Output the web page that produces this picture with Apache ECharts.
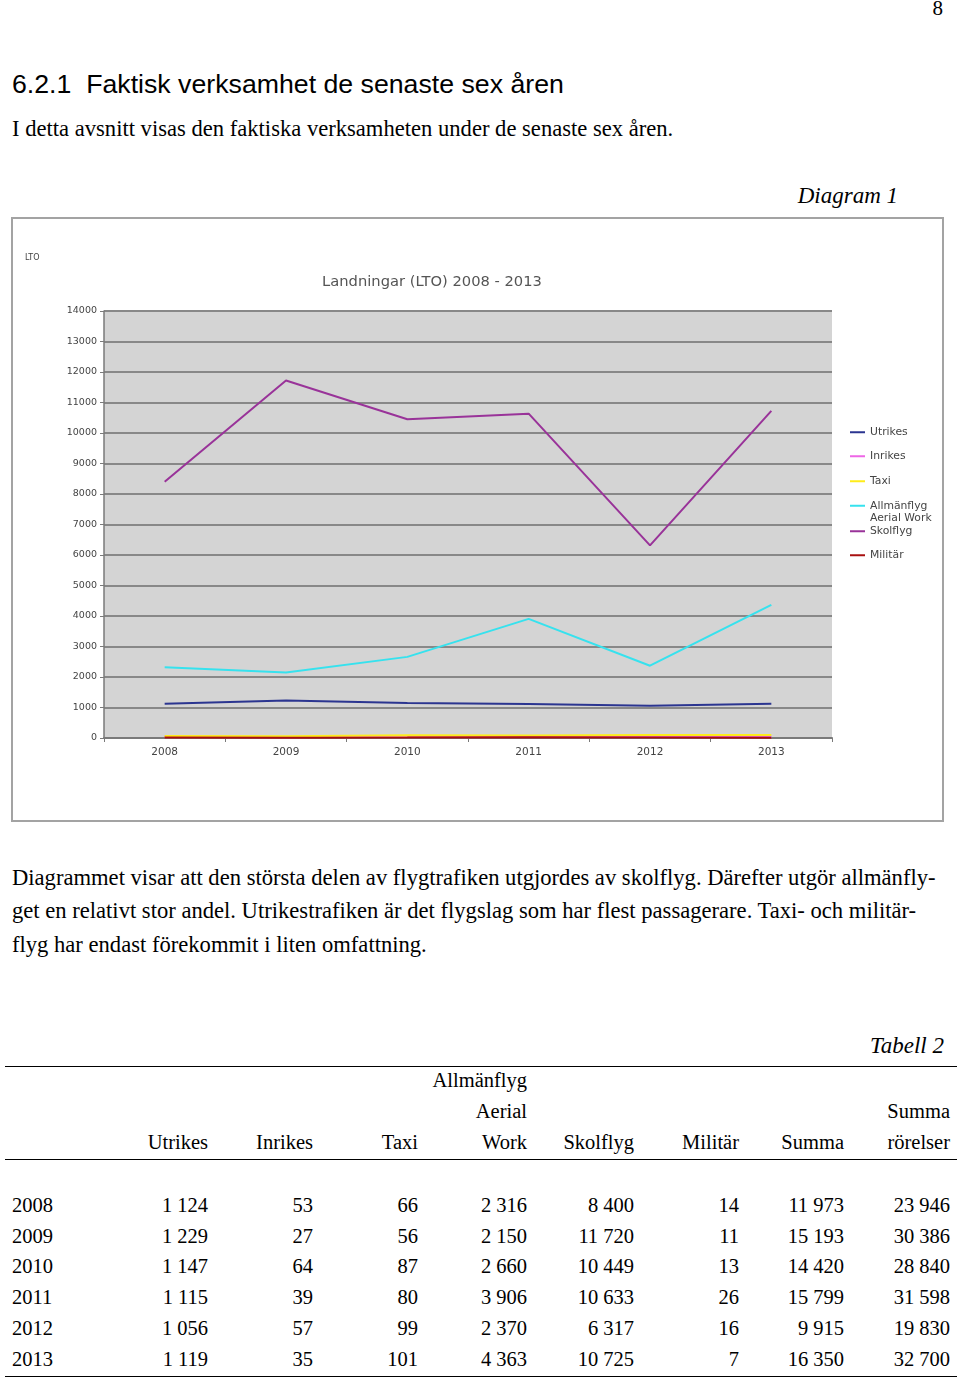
<!DOCTYPE html>
<html>
<head>
<meta charset="utf-8">
<script src="https://cdn.jsdelivr.net/npm/echarts@6/dist/echarts.min.js"></script>
<style>
  html, body { margin: 0; padding: 0; background: #fff; }
  body { width: 960px; height: 1379px; position: relative; overflow: hidden; font-family: 'Liberation Serif', 'Times New Roman', serif; color: #000; }
  .t { position: absolute; white-space: nowrap; }
  .serif { font-family: 'Liberation Serif', 'Times New Roman', serif; }
  .sans { font-family: 'Liberation Sans', Arial, sans-serif; }
  #box { position: absolute; left: 11px; top: 217px; width: 933px; height: 605px; border: 2px solid #a3a3a3; box-sizing: border-box; background: #fff; }
  #chart { position: absolute; left: 0; top: 0; width: 929px; height: 601px; }
  .rule { position: absolute; left: 5px; width: 952px; height: 0; border-top: 1.5px solid #000; }
  .cell { position: absolute; white-space: nowrap; font-size: 20.5px; line-height: 24px; text-align: right; }
  .p { font-size: 22.6px; line-height: 26px; }
</style>
</head>
<body>
<div class="t serif" style="right:17px; top:-4px; font-size:21px; line-height:24px;">8</div>
<div class="t sans" style="left:12px; top:68px; font-size:26.7px; line-height:32px;">6.2.1&nbsp;&nbsp;Faktisk verksamhet de senaste sex åren</div>
<div class="t serif p" style="left:12px; top:116px;">I detta avsnitt visas den faktiska verksamheten under de senaste sex åren.</div>
<div class="t serif" style="right:62px; top:183px; font-size:23px; line-height:26px; font-style:italic;">Diagram 1</div>

<div id="box"><div id="chart"></div></div>

<div class="t serif p" style="left:12px; top:865px;">Diagrammet visar att den största delen av flygtrafiken utgjordes av skolflyg. Därefter utgör allmänfly-</div>
<div class="t serif p" style="left:12px; top:898px;">get en relativt stor andel. Utrikestrafiken är det flygslag som har flest passagerare. Taxi- och militär-</div>
<div class="t serif p" style="left:12px; top:932px;">flyg har endast förekommit i liten omfattning.</div>

<div class="t serif" style="right:16px; top:1033px; font-size:23px; line-height:26px; font-style:italic;">Tabell 2</div>
<div class="rule" style="top:1066px;"></div>
<div class="rule" style="top:1159px;"></div>
<div class="rule" style="top:1376px;"></div>
<div id="table"></div>

<script>
// ---- Data ----
const categories = ['2008', '2009', '2010', '2011', '2012', '2013'];
const utrikes = [1124, 1229, 1147, 1115, 1056, 1119];
const inrikes = [53, 27, 64, 39, 57, 35];
const taxi = [66, 56, 87, 80, 99, 101];
const allmanflyg = [2316, 2150, 2660, 3906, 2370, 4363];
const skolflyg = [8400, 11720, 10449, 10633, 6317, 10725];
const militar = [14, 11, 13, 26, 16, 7];
const summa = [11973, 15193, 14420, 15799, 9915, 16350];
const summaRorelser = [23946, 30386, 28840, 31598, 19830, 32700];

const seriesNames = ['Utrikes', 'Inrikes', 'Taxi', 'Allmänflyg Aerial Work', 'Skolflyg', 'Militär'];
const seriesData = [utrikes, inrikes, taxi, allmanflyg, skolflyg, militar];
const seriesColors = ['#2b3590', '#ee66e6', '#ffec1a', '#36e2ee', '#993399', '#a81010'];

const tableHeaders = [
  ['', '', ''],
  ['', '', 'Utrikes'],
  ['', '', 'Inrikes'],
  ['', '', 'Taxi'],
  ['Allmänflyg', 'Aerial', 'Work'],
  ['', '', 'Skolflyg'],
  ['', '', 'Militär'],
  ['', '', 'Summa'],
  ['', 'Summa', 'rörelser']
];

// ---- Chart ----
const chart = echarts.init(document.getElementById('chart'));
const FONT = 'DejaVu Sans, Verdana, sans-serif';
const legendTops = [207, 231, 256, 268, 306, 330];

chart.setOption({
  animation: false,
  backgroundColor: '#fff',
  title: [
    { text: 'Landningar (LTO) 2008 - 2013', left: 414, top: 51, textAlign: 'center',
      textStyle: { fontFamily: FONT, fontSize: 14.7, fontWeight: 'normal', color: '#555' } },
    { text: 'LTO', left: 7, top: 30,
      textStyle: { fontFamily: FONT, fontSize: 8, fontWeight: 'normal', color: '#444' } }
  ],
  legend: seriesNames.map((n, i) => ({
    data: [n], orient: 'vertical', left: 837, top: legendTops[i], padding: 0,
    icon: 'rect', itemWidth: 15, itemHeight: 2, selectedMode: false,
    formatter: (name) => name === 'Allmänflyg Aerial Work' ? '\nAllmänflyg\nAerial Work' : name,
    textStyle: { fontFamily: FONT, fontSize: 10.8, color: '#444', lineHeight: 12.5 }
  })),
  grid: { left: 91, top: 92, width: 728, height: 427, show: true, backgroundColor: '#d4d4d4', borderWidth: 0, containLabel: false },
  xAxis: {
    type: 'category', data: categories, boundaryGap: true,
    axisLine: { show: true, lineStyle: { color: '#7a7a7a', width: 2 } },
    axisTick: { show: true, length: 4, lineStyle: { color: '#7a7a7a', width: 1 } },
    axisLabel: { margin: 9, fontFamily: FONT, fontSize: 10.5, color: '#444' },
    splitLine: { show: false }
  },
  yAxis: {
    type: 'value', min: 0, max: 14000, interval: 1000,
    axisLine: { show: true, lineStyle: { color: '#7a7a7a', width: 1.5 } },
    axisTick: { show: true, length: 4, lineStyle: { color: '#7a7a7a', width: 1 } },
    axisLabel: { margin: 7, fontFamily: FONT, fontSize: 9.5, color: '#444', formatter: (v) => String(v) },
    splitLine: { show: true, lineStyle: { color: '#888', width: 2 } }
  },
  series: seriesNames.map((n, i) => ({
    name: n, type: 'line', data: seriesData[i], showSymbol: false, symbol: 'none',
    lineStyle: { color: seriesColors[i], width: 2 }, itemStyle: { color: seriesColors[i] },
    emphasis: { disabled: true }
  }))
});

// ---- Table ----
function fmt(n) {
  const s = String(n);
  return s.replace(/\B(?=(\d{3})+(?!\d))/g, ' ');
}
const colRight = [null, 208, 313, 418, 527, 634, 739, 844, 950];
const headerTops = [1068, 1099, 1130];
const rowTops = [1193, 1224, 1254, 1285, 1316, 1347];
const tableCols = [categories, utrikes, inrikes, taxi, allmanflyg, skolflyg, militar, summa, summaRorelser];
const tbl = document.getElementById('table');
function addCell(text, top, col) {
  const d = document.createElement('div');
  d.className = 'cell';
  d.textContent = text;
  d.style.top = top + 'px';
  if (col === 0) { d.style.left = '12px'; d.style.textAlign = 'left'; }
  else { d.style.right = (960 - colRight[col]) + 'px'; }
  tbl.appendChild(d);
}
tableHeaders.forEach((h, c) => h.forEach((txt, r) => { if (txt) addCell(txt, headerTops[r], c); }));
tableCols.forEach((col, c) => col.forEach((v, r) => addCell(c === 0 ? v : fmt(v), rowTops[r], c)));
</script>
</body>
</html>
